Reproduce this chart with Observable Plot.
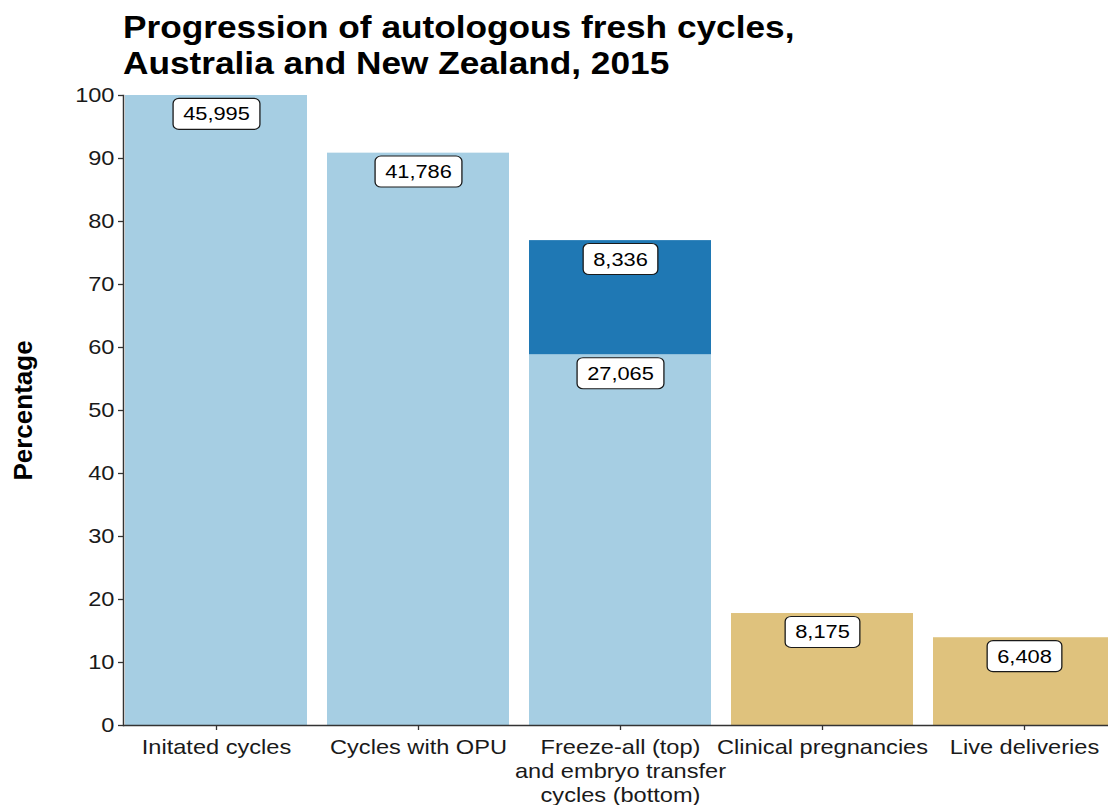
<!DOCTYPE html>
<html><head><meta charset="utf-8">
<script src="https://cdn.jsdelivr.net/npm/d3@7"></script>
<script src="https://cdn.jsdelivr.net/npm/@observablehq/plot@0.6"></script>
<style>
body{margin:0;overflow:hidden;background:#fff;font-family:"Liberation Sans",Arial,sans-serif;}
#title{height:80px;box-sizing:border-box;padding:9px 0 0 123px;color:#000;white-space:nowrap;}
#title div{font-weight:bold;font-size:30.5px;line-height:36px;transform:scaleX(1.155);transform-origin:left center;}
#chart{width:1116px;}
#chart svg{overflow:visible;display:block;max-width:none !important;}
</style></head><body>
<div id="title"><div>Progression of autologous fresh cycles,</div><div>Australia and New Zealand, 2015</div></div>
<div id="chart"></div>
<script>
const categories = [
  "Initated cycles",
  "Cycles with OPU",
  "Freeze-all (top)\nand embryo transfer\ncycles (bottom)",
  "Clinical pregnancies",
  "Live deliveries"
];
const segmentCategory = [categories[0], categories[1], categories[2], categories[2], categories[3], categories[4]];
const segmentCount = [45995, 41786, 27065, 8336, 8175, 6408];
const segmentGroup = ["stage", "stage", "stage", "freeze", "outcome", "outcome"];
const groupNames = ["stage", "freeze", "outcome"];
const groupColors = ["#a6cee3", "#1f78b4", "#dfc27d"];
const yTicks = [0, 10, 20, 30, 40, 50, 60, 70, 80, 90, 100];

const total = segmentCount[0];
const fmt = d3.format(",");
const data = segmentCount.map((c, i) => ({
  category: segmentCategory[i],
  count: c,
  pct: c / total * 100,
  group: segmentGroup[i]
}));

const plot = Plot.plot({
  width: 1116,
  height: 725,
  marginTop: 15,
  marginBottom: 80,
  marginLeft: 123,
  marginRight: 0,
  style: {fontFamily: "'Liberation Sans', Arial, sans-serif", fontSize: "20px", color: "#1a1a1a", background: "white"},
  x: {domain: categories, paddingInner: 0.1, paddingOuter: 0, label: null},
  y: {domain: [0, 100], label: null},
  color: {domain: groupNames, range: groupColors},
  marks: [
    Plot.barY(data, Plot.stackY({x: "category", y: "pct", fill: "group"})),
    Plot.axisY({ticks: yTicks, tickSize: 5, tickPadding: 4, label: null, fontSize: 20, stroke: "#333", strokeWidth: 1.3}),
    Plot.axisX({tickSize: 5, tickPadding: 6, label: null, fontSize: 20, lineHeight: 1.2, stroke: "#333", strokeWidth: 1.3}),
    Plot.frame({anchor: "left", stroke: "#333", strokeWidth: 1.5}),
    Plot.ruleY([0], {stroke: "#333", strokeWidth: 1.5}),
    Plot.text(data, Plot.stackY2({x: "category", y: "pct", text: d => fmt(d.count), dy: 19, fontSize: 18.5, fill: "black"})),
    Plot.text(["Percentage"], {frameAnchor: "left", textAnchor: "middle", rotate: -90, dx: -100, fontWeight: "bold", fontSize: 26, fill: "black"})
  ]
});
document.getElementById("chart").append(plot);

const ns = "http://www.w3.org/2000/svg";
const labelSet = new Set(segmentCount.map(fmt));
const sx = 1.18;
plot.querySelectorAll("text").forEach(t => {
  const tr = t.getAttribute("transform") || "";
  if (tr.includes("rotate")) return;
  const ax = +(t.getAttribute("x") || 0);
  const scale = ` translate(${ax},0) scale(${sx},1) translate(${-ax},0)`;
  if (labelSet.has(t.textContent)) {
    const b = t.getBBox();
    const r = document.createElementNS(ns, "rect");
    r.setAttribute("x", b.x - 8.5);
    r.setAttribute("y", b.y - 5);
    r.setAttribute("width", b.width + 17);
    r.setAttribute("height", b.height + 10);
    r.setAttribute("rx", 5);
    r.setAttribute("fill", "white");
    r.setAttribute("stroke", "#1a1a1a");
    r.setAttribute("stroke-width", 1.1);
    r.setAttribute("transform", tr + scale);
    t.parentNode.insertBefore(r, t);
  }
  t.setAttribute("transform", tr + scale);
});
</script>
</body></html>
